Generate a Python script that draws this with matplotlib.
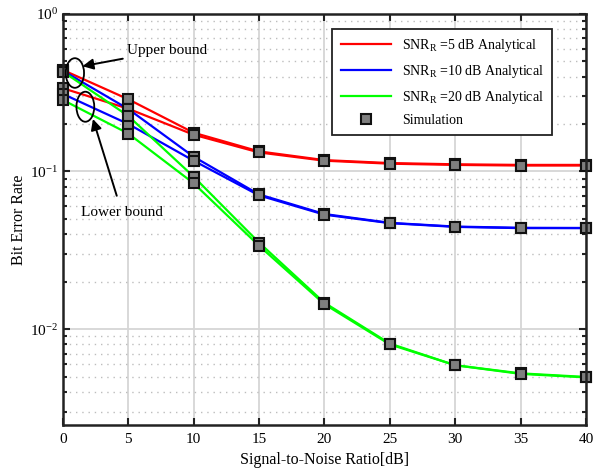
import matplotlib
matplotlib.use('Agg')
import matplotlib.pyplot as plt
from matplotlib.lines import Line2D
from matplotlib.patches import Ellipse
from matplotlib.ticker import LogLocator, NullFormatter

plt.rcParams['font.family'] = ['Liberation Serif', 'DejaVu Serif']
plt.rcParams['mathtext.fontset'] = 'custom'
plt.rcParams['mathtext.rm'] = 'Liberation Serif'
plt.rcParams['mathtext.it'] = 'Liberation Serif:italic'

# SNR [dB]
snr = [0, 5, 10, 15, 20, 25, 30, 35, 40]

# upper / lower bounds for each SNR_R
ber5_up = [0.440, 0.287, 0.176, 0.134, 0.118, 0.113, 0.111, 0.110, 0.110]
ber5_lo = [0.337, 0.250, 0.171, 0.132, 0.117, 0.112, 0.110, 0.109, 0.109]
ber10_up = [0.435, 0.249, 0.124, 0.0715, 0.0537, 0.0472, 0.0447, 0.0439, 0.0438]
ber10_lo = [0.310, 0.200, 0.117, 0.0705, 0.0532, 0.0470, 0.0445, 0.0437, 0.0437]
ber20_up = [0.430, 0.225, 0.0927, 0.0354, 0.0147, 0.0081, 0.0059, 0.00524, 0.00497]
ber20_lo = [0.284, 0.174, 0.0841, 0.0338, 0.0144, 0.0080, 0.0059, 0.00520, 0.00494]

labels = [r'SNR$_{\rm R}$ =5 dB Analytical',
          r'SNR$_{\rm R}$ =10 dB Analytical',
          r'SNR$_{\rm R}$ =20 dB Analytical']
colors = ['#ff0000', '#0000ff', '#00ff00']

fig = plt.figure(figsize=(5.93, 4.75), dpi=100)
ax = fig.add_axes([0.106, 0.105, 0.882, 0.866])

curves = [(ber5_up, ber5_lo), (ber10_up, ber10_lo), (ber20_up, ber20_lo)]
for (up, lo), c in zip(curves, colors):
    ax.plot(snr, up, color=c, lw=1.6, zorder=3)
    ax.plot(snr, lo, color=c, lw=1.6, zorder=3)
for up, lo in curves:
    for ys in (up, lo):
        ax.plot(snr, ys, ls='none', marker='s', ms=6.8, mfc='#7f7f7f',
                mec='#111111', mew=1.5, zorder=4, clip_on=False)

ax.set_yscale('log')
ax.set_xlim(0, 40)
ax.set_ylim(2.46e-3, 1)
ax.set_xticks(range(0, 41, 5))
ax.yaxis.set_major_locator(LogLocator(base=10, numticks=10))
ax.yaxis.set_minor_locator(LogLocator(base=10, subs=range(2, 10), numticks=20))
ax.yaxis.set_minor_formatter(NullFormatter())

ax.grid(True, which='major', color='#d6d6d6', lw=1.3, ls='-')
ax.grid(True, which='minor', axis='y', color='#bdbdbd', lw=1.0, ls=(0, (1, 3.5)))
ax.set_axisbelow(True)
for s in ax.spines.values():
    s.set_linewidth(1.8)
    s.set_color('#222222')
    s.set_zorder(6)
ax.tick_params(which='both', direction='in', top=True, right=True,
               labelsize=11, width=1.5, color='#222222')
ax.tick_params(which='major', length=5)
ax.tick_params(which='minor', length=3)
ax.tick_params(axis='x', pad=6)

ax.set_xlabel('Signal-to-Noise Ratio[dB]', fontsize=11.5, labelpad=4)
ax.set_ylabel('Bit Error Rate', fontsize=11.5, labelpad=2)

handles = [Line2D([], [], color=c, lw=1.6) for c in colors]
handles.append(Line2D([], [], ls='none', marker='s', ms=6.5, mfc='#7f7f7f',
                      mec='#111111', mew=1.5))
leg = ax.legend(handles, labels + ['Simulation'], loc='upper right',
                bbox_to_anchor=(0.948, 0.98), fontsize=10, handlelength=3.6,
                labelspacing=0.62, borderpad=0.6, fancybox=False, framealpha=1)
leg.get_frame().set_edgecolor('#222222')
leg.get_frame().set_linewidth(1.3)

# bound markers
ax.add_patch(Ellipse((0.023, 0.856), 0.035, 0.072, transform=ax.transAxes,
                     fill=False, ec='black', lw=1.3, zorder=5))
ax.add_patch(Ellipse((0.043, 0.774), 0.034, 0.073, transform=ax.transAxes,
                     fill=False, ec='black', lw=1.3, zorder=5))
ax.annotate('Upper bound', xy=(1.5, 0.465), xytext=(4.9, 0.585),
            fontsize=11, va='center', ha='left',
            arrowprops=dict(arrowstyle='-|>', color='black', lw=1.4,
                            mutation_scale=16, shrinkA=1, shrinkB=0))
ax.annotate('Lower bound', xy=(2.3, 0.215), xytext=(1.4, 0.0545),
            fontsize=11, va='center', ha='left',
            arrowprops=dict(arrowstyle='-|>', color='black', lw=1.4,
                            mutation_scale=16, shrinkA=6, shrinkB=0))

fig.savefig('out.png', dpi=100)
